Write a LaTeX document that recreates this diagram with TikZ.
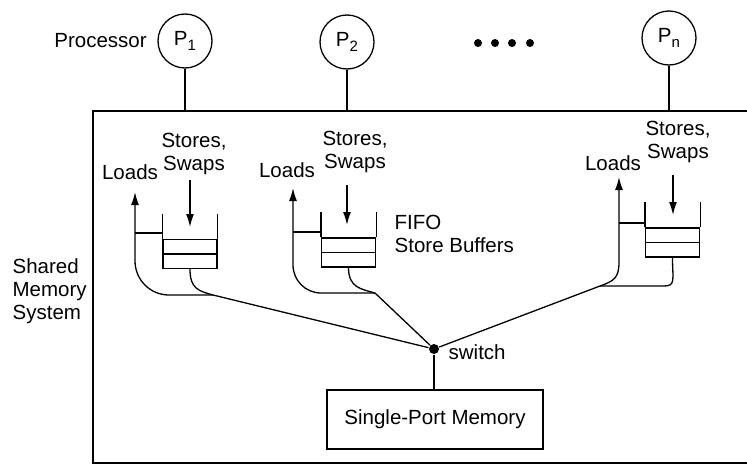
\documentclass[tikz,border=0pt]{standalone}
\usepackage{fontspec}
\setmainfont{Liberation Sans}
\usetikzlibrary{arrows.meta,positioning,calc}

\newcommand{\proclabel}[1]{P\raisebox{-0.5ex}{\fontsize{15}{15}\selectfont #1}}

\begin{document}
\begin{tikzpicture}[
    x=1pt, y=-1pt,
    line width=1.3pt,
    font=\fontsize{20.5}{23}\selectfont,
    proc/.style={circle, draw, minimum size=54pt, inner sep=0pt},
    buffer/.style={rectangle, draw, minimum width=54pt, minimum height=29pt, inner sep=0pt},
    lbl/.style={inner sep=0pt, align=center},
    dot/.style={circle, fill, inner sep=0pt, minimum size=8pt},
    arrow/.style={-{Latex[length=13pt,width=8pt]}}
]
    \useasboundingbox (0,0) rectangle (747,466);

    % Shared memory system
    \coordinate (systop) at (93,111);
    \draw (747,111) -- (systop) -- (93,463) -- (747,463);
    \node[lbl, align=left, anchor=west] (sms) at (12,291) {Shared\\Memory\\System};

    % Processors
    \node[proc] (p1) at (185,41) {\proclabel{1}};
    \node[proc] (p2) at (347,42) {\proclabel{2}};
    \node[proc] (pn) at (669,38) {\proclabel{n}};
    \node[lbl, left=10pt of p1] (proc) {Processor};
    \node[dot] (d1) at (478,43) {};
    \node[dot] (d2) at (495,43) {};
    \node[dot] (d3) at (512,43) {};
    \node[dot] (d4) at (530,43) {};
    \draw (p1) -- (p1 |- systop);
    \draw (p2) -- (p2 |- systop);
    \draw (pn) -- (pn |- systop);

    % Switch and memory
    \node[dot, minimum size=10pt] (sw) at (434,349) {};
    \node[lbl, anchor=west] (swl) at (448,352) {switch};
    \node[rectangle, draw, minimum width=216pt, minimum height=59pt] (mem) at (435,419.5) {Single-Port Memory};
    \draw (sw) -- (sw |- mem.north);

    % Buffer 1
    \node[buffer] (b1) at (190,254) {};
    \draw (b1.west) -- (b1.east);
    \draw (b1.north west) -- ++(0,-25);
    \draw (b1.north east) -- ++(0,-25);
    \node[lbl] (st1) at (194,154) {Stores,\\Swaps};
    \node[lbl] (ld1) at (130,172) {Loads};
    \coordinate (la1) at (135,192);
    \coordinate (j1) at (213,295);
    \draw[arrow] (190,180) -- (190,227);
    \draw (la1 |- 0,233) -- (b1.west |- 0,233);
    \draw[arrow, rounded corners=34pt] (j1) -- (la1 |- j1) -- (la1);
    \draw (b1.south) .. controls +(0,20) and +(-14,-4) .. (j1);
    \draw (j1) -- (sw);

    % Buffer 2
    \node[buffer] (b2) at (348.5,252.5) {};
    \draw (b2.west) -- (b2.east);
    \draw (b2.north west) -- ++(0,-25);
    \draw (b2.north east) -- ++(0,-25);
    \node[lbl] (st2) at (355,151.5) {Stores,\\Swaps};
    \node[lbl] (ld2) at (287,170) {Loads};
    \node[lbl, align=left, anchor=west] (fifo) at (394,233.5) {FIFO\\Store Buffers};
    \coordinate (la2) at (293,188);
    \coordinate (j2) at (375,293);
    \draw[arrow] (347,185) -- (347,225);
    \draw (la2 |- 0,232) -- (b2.west |- 0,232);
    \draw[arrow, rounded corners=28pt] (j2) -- (la2 |- j2) -- (la2);
    \draw (b2.south) .. controls +(0,20) and +(-14,-4) .. (j2);
    \draw (j2) -- (sw);

    % Buffer n
    \node[buffer] (b3) at (672.5,242.5) {};
    \draw (b3.west) -- (b3.east);
    \draw (b3.north west) -- ++(0,-25);
    \draw (b3.north east) -- ++(0,-25);
    \node[lbl] (st3) at (678,142) {Stores,\\Swaps};
    \node[lbl] (ld3) at (613,163) {Loads};
    \coordinate (la3) at (619,177);
    \coordinate (j3) at (600,286);
    \draw[arrow] (673,175) -- (673,215);
    \draw (la3 |- 0,223) -- (b3.west |- 0,223);
    \draw[arrow] (j3) .. controls +(14,-5) and +(0,16) .. (619,262) -- (la3);
    \draw (b3.south) .. controls +(0,22) and +(12,0) .. (664,286) -- (j3);
    \draw (j3) -- (sw);

\end{tikzpicture}
\end{document}
